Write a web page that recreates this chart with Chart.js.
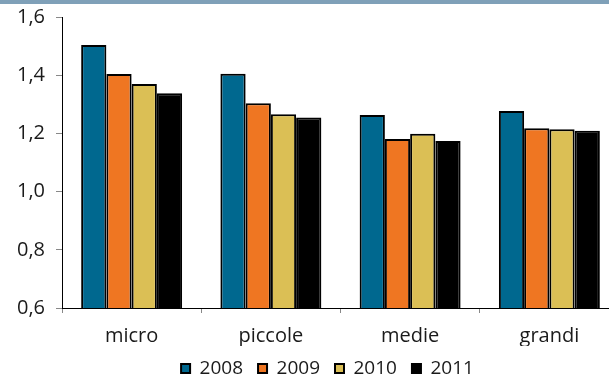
<!DOCTYPE html>
<html><head><meta charset="utf-8">
<script src="https://cdn.jsdelivr.net/npm/chart.js@4/dist/chart.umd.min.js"></script>
<style>
html,body{margin:0;padding:0;overflow:hidden;background:#fff;width:609px;height:376px;}
#wrap{position:absolute;left:0;top:0;width:619px;height:390px;}
#band{position:absolute;left:0;top:0;width:609px;height:4px;background:#7fa0b8;z-index:2}
</style></head><body>
<div id="wrap"><canvas id="c" width="619" height="390"></canvas></div><div id="band"></div>
<script>
const categories = ['micro', 'piccole', 'medie', 'grandi'];
const years = ['2008', '2009', '2010', '2011'];
const v2008 = [1.504, 1.405, 1.263, 1.277];
const v2009 = [1.404, 1.304, 1.181, 1.218];
const v2010 = [1.370, 1.266, 1.199, 1.214];
const v2011 = [1.338, 1.255, 1.174, 1.209];
const seriesColors = ['#00688f', '#ef7622', '#dbbf55', '#000000'];
const yTickValues = [0.6, 0.8, 1.0, 1.2, 1.4, 1.6];
const yTickLabels = ['0,6', '0,8', '1,0', '1,2', '1,4', '1,6'];

const seriesValues = [v2008, v2009, v2010, v2011];
const FONT = 'Open Sans';
const TXT = '#1a1a1a';

const legendShift = {
  id: 'legendShift',
  afterLayout(chart) {
    const lg = chart.legend;
    if (!lg) return;
    lg.left += 18; lg.right += 18;
    lg.top -= 2; lg.bottom -= 2;
  }
};

new Chart(document.getElementById('c'), {
  type: 'bar',
  data: {
    labels: categories,
    datasets: years.map((y, i) => ({
      label: y,
      data: seriesValues[i],
      backgroundColor: seriesColors[i],
      borderColor: '#000',
      borderWidth: 2,
      borderSkipped: false,
      categoryPercentage: 0.725,
      barPercentage: 1.0
    }))
  },
  plugins: [legendShift],
  options: {
    responsive: false,
    devicePixelRatio: 1,
    animation: false,
    layout: { padding: { left: 0, right: 0, top: 17, bottom: 0 } },
    plugins: {
      tooltip: { enabled: false },
      legend: {
        position: 'bottom',
        labels: {
          boxWidth: 9, boxHeight: 9, padding: 15,
          color: TXT,
          font: { family: FONT, size: 19 }
        }
      }
    },
    scales: {
      y: {
        min: 0.6, max: 1.6,
        afterBuildTicks: s => { s.ticks = yTickValues.map(v => ({ value: v })); },
        afterFit: s => { s.width = 62; s.paddingTop = 0; s.paddingBottom = 0; },
        ticks: {
          padding: 11,
          color: TXT,
          font: { family: FONT, size: 20 },
          callback: (v) => { const i = yTickValues.findIndex(t => Math.abs(t - v) < 1e-6); return i >= 0 ? yTickLabels[i] : ''; }
        },
        grid: { drawOnChartArea: false, tickLength: 6, color: '#888' },
        border: { color: '#000', width: 1 }
      },
      x: {
        afterFit: s => { s.height = 38; },
        ticks: {
          padding: 13,
          color: TXT,
          font: { family: FONT, size: 20, lineHeight: 1.0 }
        },
        grid: { drawOnChartArea: false, tickLength: 5, color: '#888', offset: true },
        border: { color: '#000', width: 1 }
      }
    }
  }
});
</script>
</body></html>
